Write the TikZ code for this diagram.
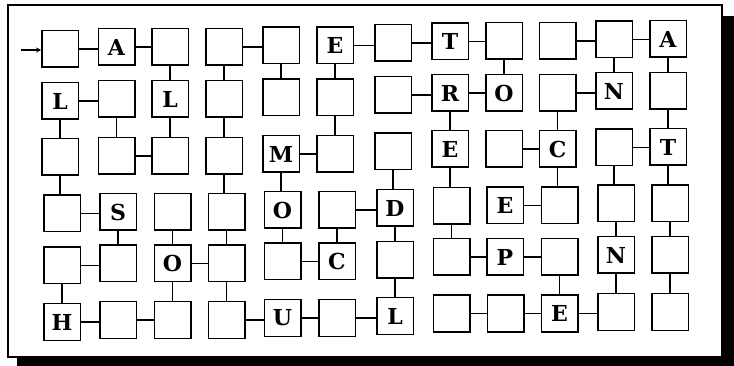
\documentclass[tikz,border=0pt]{standalone}
\usepackage{fontspec}
\setmainfont{Liberation Serif}
\newfontfamily\cellfont{DejaVu Serif}
\usetikzlibrary{arrows.meta}
\begin{document}
\begin{tikzpicture}[x=1pt,y=-1pt,
  cell/.style={draw, line width=1.5pt, minimum size=36.5pt, inner sep=0pt,
    fill=white, font=\cellfont\bfseries\fontsize{22}{22}\selectfont},
  link/.style={line width=1.5pt},
  frame/.style={draw, line width=1.5pt, fill=white},
  shadow/.style={fill=black}]
\useasboundingbox (0,0) rectangle (734,366);
\fill[shadow] (17,16) rectangle (734,366);
\draw[frame] (8,5) rectangle (722,357);
\foreach \n/\x/\y/\t in {
  r1c1/60/49/{}, r1c2/116.5/47/A, r1c3/170/47/{}, r1c4/224/47/{},
  r1c5/281/45.5/{}, r1c6/335/45.5/E, r1c7/393/43/{}, r1c8/450/41.5/T,
  r1c9/504/41/{}, r1c10/557.5/41/{}, r1c11/614/39.5/{}, r1c12/668/39/A,
  r2c1/60/101/L, r2c2/116.5/99/{}, r2c3/170/99/L, r2c4/224/99/{},
  r2c5/281/97.5/{}, r2c6/335/97.5/{}, r2c7/393/95/{}, r2c8/450/93/R,
  r2c9/504/93/O, r2c10/557.5/93/{}, r2c11/614/91/N, r2c12/668/91/{},
  r3c1/60/157/{}, r3c2/116.5/156/{}, r3c3/170/156/{}, r3c4/224/156/{},
  r3c5/281/154/M, r3c6/335/154/{}, r3c7/393/151.5/{}, r3c8/450/149/E,
  r3c9/504/149/{}, r3c10/557.5/149/C, r3c11/614/147.5/{}, r3c12/668/147/T,
  r4c1/62/213.5/{}, r4c2/118/212/S, r4c3/172.5/212/{}, r4c4/226.5/212/{},
  r4c5/282.5/210/O, r4c6/337/210/{}, r4c7/395/208/D, r4c8/451.5/206/{},
  r4c9/505/205.5/E, r4c10/559.5/205.5/{}, r4c11/616/203.5/{}, r4c12/670/203.5/{},
  r5c1/62/265.5/{}, r5c2/118/263.5/{}, r5c3/172.5/263.5/O, r5c4/226.5/263.5/{},
  r5c5/282.5/261.5/{}, r5c6/337/261.5/C, r5c7/395/260/{}, r5c8/451.5/257/{},
  r5c9/505/257/P, r5c10/559.5/257/{}, r5c11/616/255/N, r5c12/670/255/{},
  r6c1/62/322/H, r6c2/118/320/{}, r6c3/172.5/320/{}, r6c4/226.5/320/{},
  r6c5/282.5/318/U, r6c6/337/318/{}, r6c7/395/316/L, r6c8/451.5/313.5/{},
  r6c9/505.5/313.5/{}, r6c10/559.5/313.5/E, r6c11/616/312/{}, r6c12/670/312/{}}
  \node[cell] (\n) at (\x,\y) {\t};
% horizontal links
\foreach \a/\b in {
  r1c1/r1c2, r1c2/r1c3, r1c4/r1c5, r1c6/r1c7, r1c7/r1c8, r1c8/r1c9, r1c10/r1c11, r1c11/r1c12,
  r2c1/r2c2, r2c7/r2c8, r2c8/r2c9, r2c10/r2c11,
  r3c2/r3c3, r3c5/r3c6, r3c9/r3c10, r3c11/r3c12,
  r4c1/r4c2, r4c6/r4c7, r4c9/r4c10,
  r5c1/r5c2, r5c3/r5c4, r5c5/r5c6, r5c8/r5c9, r5c9/r5c10,
  r6c1/r6c2, r6c2/r6c3, r6c4/r6c5, r6c5/r6c6, r6c6/r6c7, r6c8/r6c9, r6c9/r6c10, r6c10/r6c11}
  \draw[link] (\a.east) -- (\a.east -| \b.west);
% vertical links
\foreach \a/\b in {
  r2c1/r3c1, r3c1/r4c1, r5c1/r6c1,
  r2c2/r3c2, r4c2/r5c2,
  r1c3/r2c3, r2c3/r3c3, r4c3/r5c3, r5c3/r6c3,
  r1c4/r2c4, r2c4/r3c4, r3c4/r4c4, r4c4/r5c4, r5c4/r6c4,
  r1c5/r2c5, r3c5/r4c5, r4c5/r5c5,
  r1c6/r2c6, r2c6/r3c6, r4c6/r5c6,
  r3c7/r4c7, r4c7/r5c7, r5c7/r6c7,
  r2c8/r3c8, r3c8/r4c8, r4c8/r5c8,
  r1c9/r2c9,
  r2c10/r3c10, r3c10/r4c10, r5c10/r6c10,
  r1c11/r2c11, r3c11/r4c11, r4c11/r5c11, r5c11/r6c11,
  r1c12/r2c12, r2c12/r3c12, r3c12/r4c12, r4c12/r5c12, r5c12/r6c12}
  \draw[link] (\a.south) -- (\a.south |- \b.north);
\coordinate (start) at (21,50);
\draw[link, line width=1.2pt, -{Stealth[length=5pt,width=5pt]}] (start) -- (start -| r1c1.west);
\end{tikzpicture}
\end{document}
